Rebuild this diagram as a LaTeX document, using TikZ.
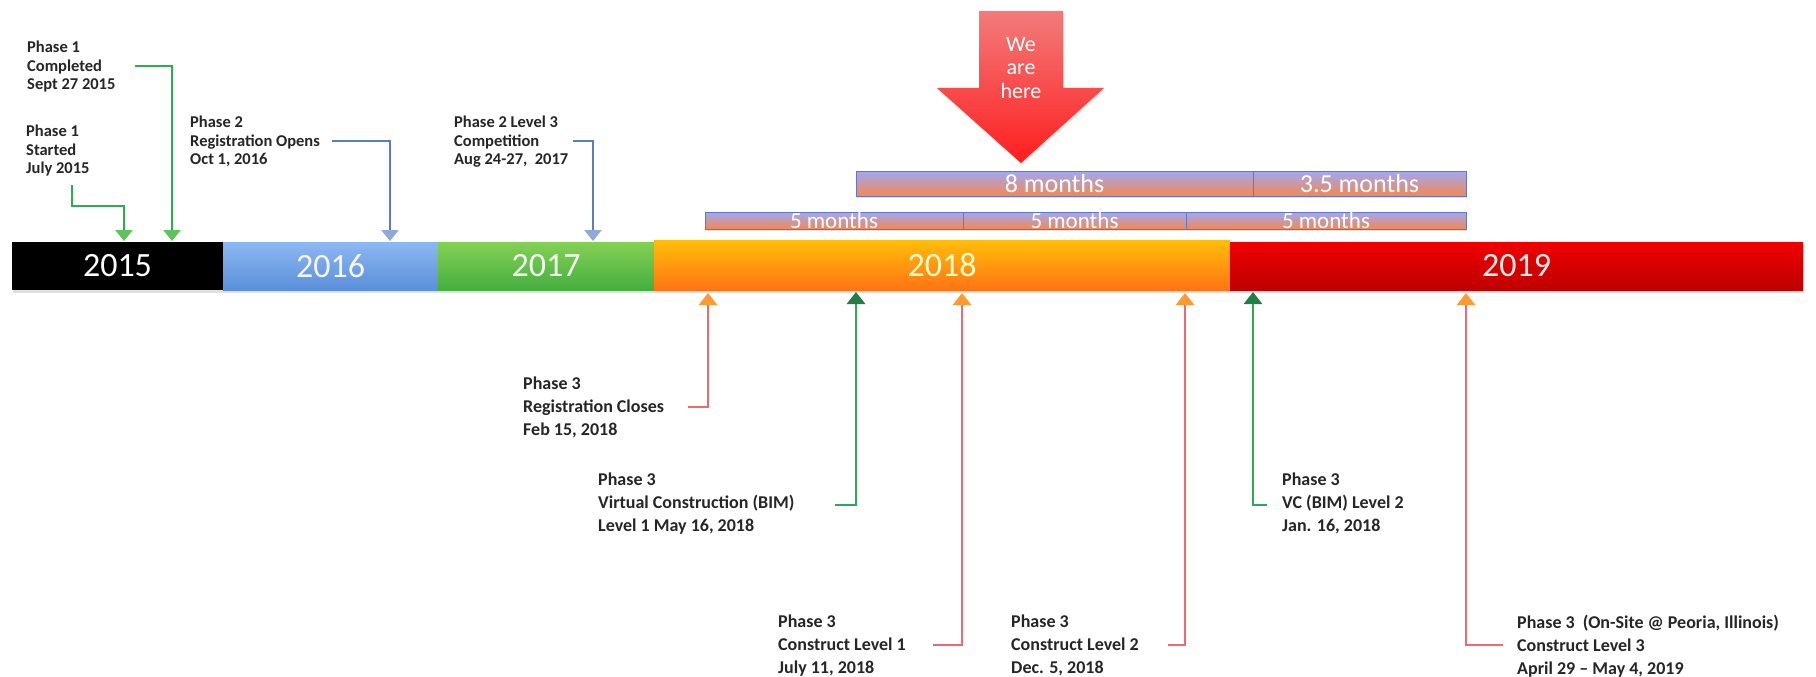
\documentclass[tikz,border=0pt]{standalone}
\usepackage{fontspec}
\setmainfont{Carlito}
\usetikzlibrary{arrows.meta,shadows}
\definecolor{labelgray}{HTML}{262626}
\definecolor{gline}{HTML}{2BAE4E}
\definecolor{ghead}{HTML}{5DC35A}
\definecolor{bline}{HTML}{5B7CBF}
\definecolor{bhead}{HTML}{8FA9DC}
\definecolor{rline}{HTML}{EE6A72}
\definecolor{ohead}{HTML}{FF9A30}
\definecolor{gline2}{HTML}{2EA85A}
\definecolor{ghead2}{HTML}{1F7F45}
\definecolor{mtop}{HTML}{9FA9F6}
\definecolor{mbot}{HTML}{F7864F}
\definecolor{mborder}{HTML}{5F78C8}
\definecolor{wtop}{HTML}{F27B7B}
\definecolor{wbot}{HTML}{FF1E1E}
\definecolor{b16t}{HTML}{8DB8F2}
\definecolor{b16b}{HTML}{5A8FDA}
\definecolor{g17t}{HTML}{84D155}
\definecolor{g17b}{HTML}{45AE3E}
\definecolor{o18t}{HTML}{FFBE0A}
\definecolor{o18b}{HTML}{FF7414}
\definecolor{r19t}{HTML}{F00000}
\definecolor{r19b}{HTML}{BE0000}
\begin{document}
\begin{tikzpicture}[x=1pt,y=-1pt,
  yb/.style={minimum height=48pt, inner sep=0pt, font=\fontsize{34}{36}\selectfont,
    drop shadow={opacity=0.25,shadow xshift=1pt,shadow yshift=-3pt}},
  mb/.style={draw=mborder, line width=0.8pt, top color=mtop, bottom color=mbot,
    inner sep=0pt, text=white,
    drop shadow={opacity=0.25,shadow xshift=1pt,shadow yshift=-2pt}},
  toplbl/.style={anchor=north west, inner sep=0pt, align=left, text=labelgray,
    font=\bfseries\fontsize{16.5}{18.5}\selectfont},
  botlbl/.style={anchor=north west, inner sep=0pt, align=left, text=labelgray,
    font=\bfseries\fontsize{18}{23}\selectfont},
  garr/.style={draw=gline, line width=2.8pt, line join=miter,
    -{Triangle[width=17pt,length=11pt,color=ghead]}},
  barr/.style={draw=bline, line width=2.6pt, line join=miter,
    -{Triangle[width=17pt,length=11pt,color=bhead]}},
  rarr/.style={draw=rline, line width=2.8pt, line join=miter,
    -{Triangle[width=18pt,length=12pt,color=ohead]}},
  gbarr/.style={draw=gline2, line width=2.8pt, line join=miter,
    -{Triangle[width=18pt,length=12pt,color=ghead2]}}
]
\path[use as bounding box, fill=white] (0,0) rectangle (1816,677);

% year bar
\node[yb, minimum width=211pt, fill=black, text=white] (y2015) at (117.5,266) {2015};
\node[yb, minimum width=215pt, top color=b16t, bottom color=b16b, text=blue!4] (y2016) at (330.5,266) {2016};
\node[yb, minimum width=216pt, top color=g17t, bottom color=g17b, text=green!5] (y2017) at (546,266) {2017};
\node[yb, minimum width=576pt, minimum height=50pt, top color=o18t, bottom color=o18b, text=yellow!20] (y2018) at (942,265) {2018};
\node[yb, minimum width=573pt, top color=r19t, bottom color=r19b, text=red!8] (y2019) at (1516.5,266) {2019};

% month bars
\node[mb, minimum width=397pt, minimum height=25pt, font=\fontsize{26}{27}\selectfont] (m8) at (1054.5,183.5) {8 months};
\node[mb, minimum width=213pt, minimum height=25pt, font=\fontsize{26}{27}\selectfont] (m35) at (1359.5,183.5) {3.5 months};
\node[mb, minimum width=258pt, minimum height=17pt, font=\fontsize{23}{24}\selectfont] (m5a) at (834,220.5) {5 months};
\node[mb, minimum width=223pt, minimum height=17pt, font=\fontsize{23}{24}\selectfont] (m5b) at (1074.5,220.5) {5 months};
\node[mb, minimum width=280pt, minimum height=17pt, font=\fontsize{23}{24}\selectfont] (m5c) at (1326,220.5) {5 months};

% we are here arrow
\path[top color=wtop, bottom color=wbot, drop shadow={opacity=0.2,shadow xshift=1pt,shadow yshift=-2pt}]
  (979,11) -- (1063,11) -- (1063,88) -- (1104,88) -- (1021,163) -- (937,88) -- (979,88) -- cycle;
\node[text=white, align=center, inner sep=0pt, font=\fontsize{22}{23.5}\selectfont] (here) at (1021,68) {We\\are\\here};

% top labels
\node[toplbl] (p1c) at (27,41) {Phase 1\\Completed\\Sept 27 2015};
\node[toplbl] (p1s) at (26,125) {Phase 1\\Started\\July 2015};
\node[toplbl] (p2) at (190,116) {Phase 2\\Registration Opens\\Oct 1, 2016};
\node[toplbl] (p2l) at (454,116) {Phase 2 Level 3\\Competition\\Aug 24-27,\ \ 2017};

\coordinate (p1c-s) at (135,66);
\coordinate (p1c-t) at (172,241);
\coordinate (p1s-s) at (72,185);
\coordinate (p1s-m) at (72,206);
\coordinate (p1s-t) at (124,241);
\coordinate (p2-s) at (332,141);
\coordinate (p2-t) at (390,241);
\coordinate (p2l-s) at (573,141);
\coordinate (p2l-t) at (593,241);

\draw[garr] (p1c-s) -| (p1c-t);
\draw[garr] (p1s-s) -- (p1s-m) -| (p1s-t);
\draw[barr] (p2-s) -| (p2-t);
\draw[barr] (p2l-s) -| (p2l-t);

% bottom labels
\node[botlbl] (rc) at (523,377) {Phase 3\\Registration Closes\\Feb 15, 2018};
\node[botlbl] (vc1) at (598,473) {Phase 3\\Virtual Construction (BIM)\\Level 1 May 16, 2018};
\node[botlbl] (cl1) at (778,615) {Phase 3\\Construct Level 1\\July 11, 2018};
\node[botlbl] (cl2) at (1011,615) {Phase 3\\Construct Level 2\\Dec. 5, 2018};
\node[botlbl] (vc2) at (1282,473) {Phase 3\\VC (BIM) Level 2\\Jan. 16, 2018};
\node[botlbl] (cl3) at (1517,615) {Phase 3\ \ (On-Site @ Peoria, Illinois)\\Construct Level 3\\April 29 – May 4, 2019};

\coordinate (rc-s) at (688,407);
\coordinate (rc-t) at (708,293);
\coordinate (vc1-s) at (835,505);
\coordinate (vc1-t) at (856,292);
\coordinate (cl1-s) at (933,645);
\coordinate (cl1-t) at (962,293);
\coordinate (cl2-s) at (1168,645);
\coordinate (cl2-t) at (1185,293);
\coordinate (vc2-s) at (1267,505);
\coordinate (vc2-t) at (1253,292);
\coordinate (cl3-s) at (1503,645);
\coordinate (cl3-t) at (1466,293);

\draw[rarr] (rc-s) -| (rc-t);
\draw[gbarr] (vc1-s) -| (vc1-t);
\draw[rarr] (cl1-s) -| (cl1-t);
\draw[rarr] (cl2-s) -| (cl2-t);
\draw[gbarr] (vc2-s) -| (vc2-t);
\draw[rarr] (cl3-s) -| (cl3-t);
\end{tikzpicture}
\end{document}
